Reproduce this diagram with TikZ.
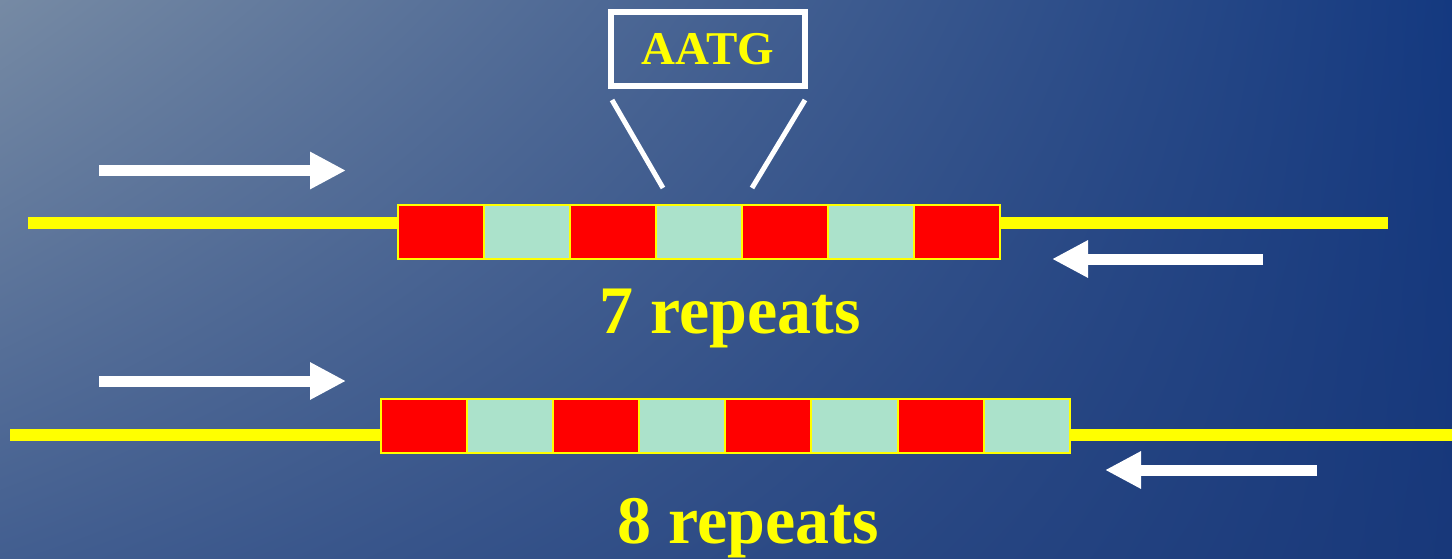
\documentclass[tikz,border=0pt]{standalone}
\usepackage{fontspec}
\setmainfont{Liberation Serif}
\usetikzlibrary{arrows.meta,shadings}
\definecolor{bgUL}{RGB}{118,138,164}
\definecolor{bgUR}{RGB}{20,57,128}
\definecolor{bgLL}{RGB}{66,94,144}
\definecolor{bgLR}{RGB}{24,56,122}
\definecolor{redcell}{RGB}{255,0,0}
\definecolor{mintcell}{RGB}{171,226,203}
\definecolor{ylw}{RGB}{255,255,0}
\tikzset{
  cell/.style={draw=ylw, line width=2pt, minimum width=86pt, minimum height=54pt, inner sep=0pt, outer sep=0pt},
  redbox/.style={cell, fill=redcell},
  mintbox/.style={cell, fill=mintcell},
  dna/.style={draw=ylw, line width=11.5pt, line cap=butt},
  primer/.style={draw=white, line width=11pt, -{Triangle[length=36pt,width=35pt]}},
  label/.style={text=ylw, font=\bfseries\fontsize{68}{68}\selectfont, anchor=base, inner sep=0pt},
}
\begin{document}
\begin{tikzpicture}[x=1pt,y=-1pt]
\useasboundingbox (0,0) rectangle (1452,559);
\shade[upper left=bgUL, upper right=bgUR, lower left=bgLL, lower right=bgLR] (0,0) rectangle (1452,559);
% top molecule
\coordinate (tL) at (28,223);
\coordinate (tR) at (1388,223);
\foreach \i/\s in {0/redbox,1/mintbox,2/redbox,3/mintbox,4/redbox,5/mintbox,6/redbox}{
  \node[\s] (t\i) at ({441+86*\i},232) {};
}
\draw[dna] (tL) -- (tL -| t0.west);
\draw[dna] (tR -| t6.east) -- (tR);
% bottom molecule
\coordinate (bL) at (10,435);
\coordinate (bR) at (1452,435);
\foreach \i/\s in {0/redbox,1/mintbox,2/redbox,3/mintbox,4/redbox,5/mintbox,6/redbox,7/mintbox}{
  \node[\s, minimum width=86.1pt] (b\i) at ({424+86.1*\i},426) {};
}
\draw[dna] (bL) -- (bL -| b0.west);
\draw[dna] (bR -| b7.east) -- (bR);
% primers
\coordinate (p1s) at (99,170.5);  \coordinate (p1e) at (346,170.5);
\coordinate (p2s) at (1263,259);  \coordinate (p2e) at (1052,259);
\coordinate (p3s) at (99,381);    \coordinate (p3e) at (346,381);
\coordinate (p4s) at (1317,470);  \coordinate (p4e) at (1105,470);
\draw[primer] (p1s) -- (p1e);
\draw[primer] (p2s) -- (p2e);
\draw[primer] (p3s) -- (p3e);
\draw[primer] (p4s) -- (p4e);
% AATG callout
\node[draw=white, line width=6pt, minimum width=194pt, minimum height=74pt, inner sep=0pt,
      text=ylw, font=\bfseries\fontsize{47}{47}\selectfont] (motif) at (708,49) {AATG};
\coordinate (c1) at (612,100); \coordinate (c2) at (663,188);
\coordinate (c3) at (805,100); \coordinate (c4) at (752,188);
\draw[white, line width=5pt] (c1) -- (c2);
\draw[white, line width=5pt] (c3) -- (c4);
% labels
\node[label] (l7) at (730,333) {7 repeats};
\node[label] (l8) at (748,543) {8 repeats};
\end{tikzpicture}
\end{document}
